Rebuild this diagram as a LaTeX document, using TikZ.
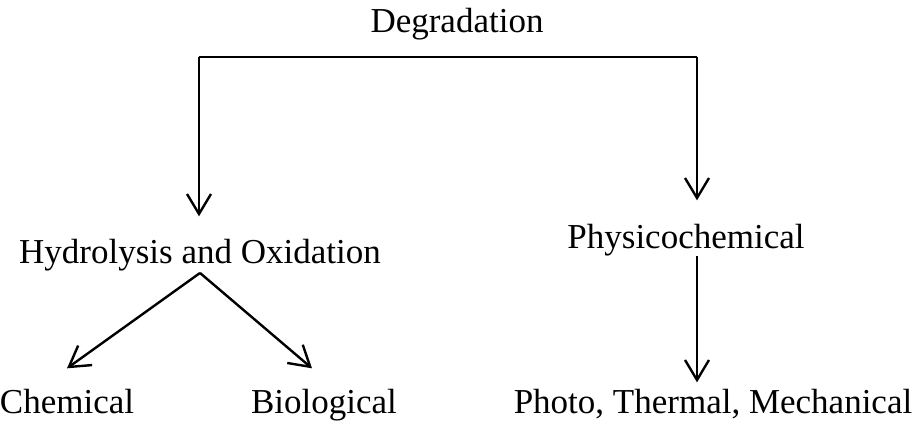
\documentclass[tikz,border=0pt]{standalone}
\usepackage{fontspec}
\setmainfont{Liberation Serif}
\usepackage{tikz}
\usetikzlibrary{arrows.meta,positioning}

\begin{document}
\begin{tikzpicture}[x=0.5pt, y=-0.5pt,
	label/.style = {anchor=base, inner sep=0pt, font=\fontsize{17.5}{20}\selectfont},
	arr/.style = {-{Straight Barb[length=10pt, width=12pt]}, line width=1.2pt}]
\useasboundingbox (0,0) rectangle (917,425);
\node [label] (deg) at (457,32) {Degradation};
\node [label] (hyd) at (200,263) {Hydrolysis and Oxidation};
\node [label] (phys) at (686,248) {Physicochemical};
\node [label] (chem) at (67,413) {Chemical};
\node [label] (bio) at (324,413) {Biological};
\node [label] (photo) at (713,413) {Photo, Thermal, Mechanical};
% branch of the top level
\coordinate (brL) at (199,57);
\coordinate (brR) at (697,57);
\draw [line width=1.2pt] (brL) -- (brR);
\draw [arr, shorten >=11pt] (brL) -- (brL |- hyd.north);
\draw [arr, shorten >=11.5pt] (brR) -- (brR |- phys.north);
% second level
\coordinate (fork) at ([yshift=-1pt]hyd.south);
\draw [arr] (fork) -- ([yshift=10pt]chem.north);
\draw [arr] (fork) -- ([xshift=-6pt, yshift=10pt]bio.north);
\draw [arr] (phys.south -| brR) -- ([yshift=3pt]photo.north -| brR);
\end{tikzpicture}
\end{document}
